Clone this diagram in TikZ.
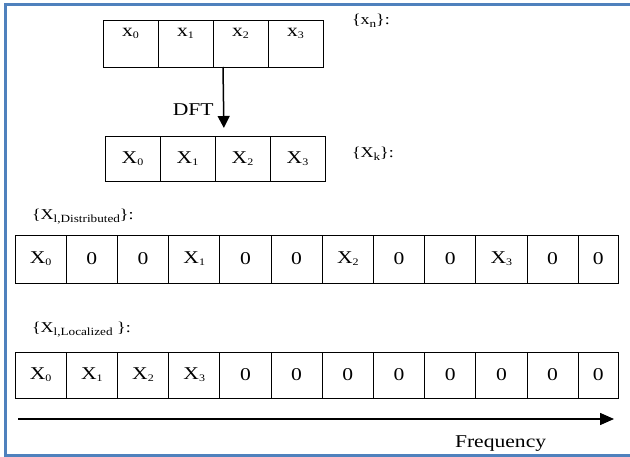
\documentclass[tikz,border=0pt]{standalone}
\usepackage{fontspec}
\setmainfont[FakeStretch=1.2]{Liberation Serif}
\usetikzlibrary{positioning,arrows.meta}
\definecolor{frameblue}{RGB}{79,129,189}
\newcommand{\csub}[1]{\raisebox{-2pt}{\fontsize{10}{10}\selectfont #1}}
\newcommand{\lsub}[1]{\raisebox{-3pt}{\fontsize{11}{11}\selectfont #1}}

\begin{document}
\begin{tikzpicture}[x=1pt, y=-1pt,
   every node/.style={inner sep=0pt, outer sep=0pt},
   cell/.style={draw, line width=0.8pt, minimum width=51.2pt,
                font=\fontsize{18}{18}\selectfont},
   toprow/.style={cell, minimum width=55pt, text height=17pt, text depth=30pt},
   dftrow/.style={cell, minimum width=55pt, minimum height=45pt},
   distrow/.style={cell, minimum height=48pt},
   locrow/.style={cell, minimum height=46pt},
   lastcell/.style={minimum width=40pt},
   seqlabel/.style={anchor=base west, font=\fontsize{15}{15}\selectfont},
   bigarrow/.style={line width=1.5pt, -{Triangle[width=12pt,length=12pt]}}]

\useasboundingbox (0,0) rectangle (630,457);
\draw[frameblue, line width=3pt] (640,5) -- (5,5) -- (5,455) -- (640,455);

% time samples
\node[toprow, anchor=north west] (xa0) at (103,20) {x\csub{0}};
\node[toprow, right=0pt of xa0] (xa1) {x\csub{1}};
\node[toprow, right=0pt of xa1] (xa2) {x\csub{2}};
\node[toprow, right=0pt of xa2] (xa3) {x\csub{3}};
\node[seqlabel] (lxn) at (352,25) {\{x\lsub{n}\}:};

% DFT output
\node[dftrow, anchor=north west] (Xb0) at (105,136) {X\csub{0}};
\node[dftrow, right=0pt of Xb0] (Xb1) {X\csub{1}};
\node[dftrow, right=0pt of Xb1] (Xb2) {X\csub{2}};
\node[dftrow, right=0pt of Xb2] (Xb3) {X\csub{3}};
\node[seqlabel] (lXk) at (352,158) {\{X\lsub{k}\}:};

\draw[bigarrow, shorten >=8pt] ([xshift=10pt]xa2.south west)
   -- node[pos=0.62, left=10pt, font=\fontsize{18}{18}\selectfont] (dft) {DFT}
   ([xshift=9pt]Xb2.north west);

% distributed mapping
\node[seqlabel] (ldist) at (32,220) {\{X\lsub{l,Distributed}\}:};
\node[distrow, anchor=north west] (Xd0) at (15,235) {X\csub{0}};
\node[distrow, right=0pt of Xd0] (Xd1) {0};
\node[distrow, right=0pt of Xd1] (Xd2) {0};
\node[distrow, right=0pt of Xd2] (Xd3) {X\csub{1}};
\node[distrow, right=0pt of Xd3] (Xd4) {0};
\node[distrow, right=0pt of Xd4] (Xd5) {0};
\node[distrow, right=0pt of Xd5] (Xd6) {X\csub{2}};
\node[distrow, right=0pt of Xd6] (Xd7) {0};
\node[distrow, right=0pt of Xd7] (Xd8) {0};
\node[distrow, right=0pt of Xd8] (Xd9) {X\csub{3}};
\node[distrow, right=0pt of Xd9] (Xd10) {0};
\node[distrow, lastcell, right=0pt of Xd10] (Xd11) {0};

% localized mapping
\node[seqlabel] (lloc) at (32,333) {\{X\lsub{l,Localized} \}:};
\node[locrow, anchor=north west] (Xl0) at (15,352) {X\csub{0}};
\node[locrow, right=0pt of Xl0] (Xl1) {X\csub{1}};
\node[locrow, right=0pt of Xl1] (Xl2) {X\csub{2}};
\node[locrow, right=0pt of Xl2] (Xl3) {X\csub{3}};
\node[locrow, right=0pt of Xl3] (Xl4) {0};
\node[locrow, right=0pt of Xl4] (Xl5) {0};
\node[locrow, right=0pt of Xl5] (Xl6) {0};
\node[locrow, right=0pt of Xl6] (Xl7) {0};
\node[locrow, right=0pt of Xl7] (Xl8) {0};
\node[locrow, right=0pt of Xl8] (Xl9) {0};
\node[locrow, right=0pt of Xl9] (Xl10) {0};
\node[locrow, lastcell, right=0pt of Xl10] (Xl11) {0};

% frequency axis
\coordinate (fstart) at (18,419);
\coordinate (fend) at (614,419);
\draw[bigarrow, -{Triangle[width=12pt,length=14pt]}] (fstart) -- (fend);
\node[anchor=base west, font=\fontsize{18}{18}\selectfont] (freq) at (455,447) {Frequency};

\end{tikzpicture}
\end{document}
